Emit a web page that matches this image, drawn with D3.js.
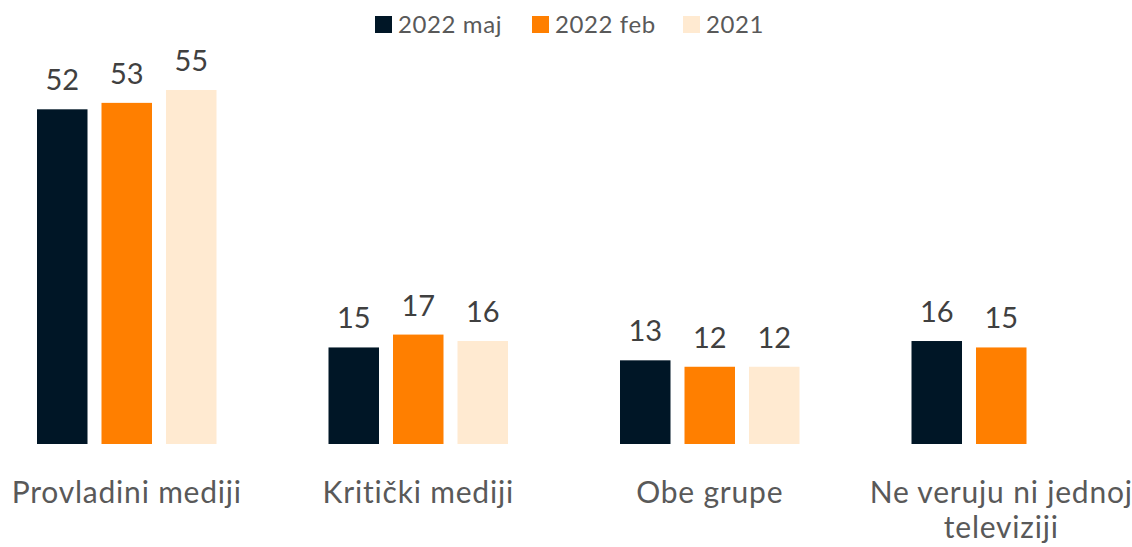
<!DOCTYPE html>
<html>
<head>
<meta charset="utf-8">
<script src="https://cdn.jsdelivr.net/npm/d3@7"></script>
<style>
  body { margin: 0; background: #fff; }
  svg text { font-family: Lato, "Noto Sans", sans-serif; }
</style>
</head>
<body>
<div id="chart"></div>
<script>
// data
const categories = ['Provladini mediji', 'Kritički mediji', 'Obe grupe', 'Ne veruju ni jednoj televiziji']
const seriesNames = ['2022 maj', '2022 feb', '2021']
const maj2022 = [52, 15, 13, 16]
const feb2022 = [53, 17, 12, 15]
const y2021 = [55, 16, 12, null]
const colors = ['#001626', '#ff7f00', '#ffead1']

const seriesValues = [maj2022, feb2022, y2021]

const W = 1132, H = 547
const svg = d3.select('#chart').append('svg')
  .attr('width', W).attr('height', H)

const x0 = d3.scaleBand().domain(categories).range([-19, 1147]).padding(0)
const x1 = d3.scaleBand().domain(seriesNames).range([0, 179.5]).paddingInner(0.217).paddingOuter(0)
const y = d3.scaleLinear().domain([0, 55]).range([444, 90])

const rows = []
categories.forEach((c, i) => {
  seriesNames.forEach((s, j) => {
    const v = seriesValues[j][i]
    if (v != null) rows.push({ cat: c, series: s, value: v, color: colors[j] })
  })
})

const bx = d => x0(d.cat) + x0.bandwidth() / 2 - 89.75 + x1(d.series)

svg.append('g').selectAll('rect')
  .data(rows).join('rect')
  .attr('x', bx)
  .attr('y', d => y(d.value))
  .attr('width', x1.bandwidth())
  .attr('height', d => y(0) - y(d.value))
  .attr('fill', d => d.color)

svg.append('g').selectAll('text')
  .data(rows).join('text')
  .attr('x', d => bx(d) + x1.bandwidth() / 2)
  .attr('y', d => y(d.value) - 19)
  .attr('text-anchor', 'middle')
  .attr('font-size', 29)
  .attr('fill', '#404040')
  .text(d => d.value)

// category labels, wrapped
const maxW = 275
const catG = svg.append('g')
categories.forEach(c => {
  const cx = x0(c) + x0.bandwidth() / 2
  const t = catG.append('text')
    .attr('x', cx)
    .attr('y', 503)
    .attr('text-anchor', 'middle')
    .attr('font-size', 30)
    .attr('letter-spacing', 0.8)
    .attr('fill', '#595959')
  const words = c.split(' ')
  let line = []
  let ts = t.append('tspan').attr('x', cx).attr('dy', 0)
  words.forEach(w => {
    line.push(w)
    ts.text(line.join(' '))
    if (ts.node().getComputedTextLength() > maxW && line.length > 1) {
      line.pop()
      ts.text(line.join(' '))
      line = [w]
      ts = t.append('tspan').attr('x', cx).attr('dy', 35).text(w)
    }
  })
})

// legend
const legX = [375, 532, 683]
const leg = svg.append('g')
seriesNames.forEach((s, i) => {
  leg.append('rect')
    .attr('x', legX[i]).attr('y', 16)
    .attr('width', 17).attr('height', 17)
    .attr('fill', colors[i])
  leg.append('text')
    .attr('x', legX[i] + 23).attr('y', 33)
    .attr('font-size', 24)
    .attr('letter-spacing', 0.6)
    .attr('fill', '#595959')
    .text(s)
})
</script>
</body>
</html>
